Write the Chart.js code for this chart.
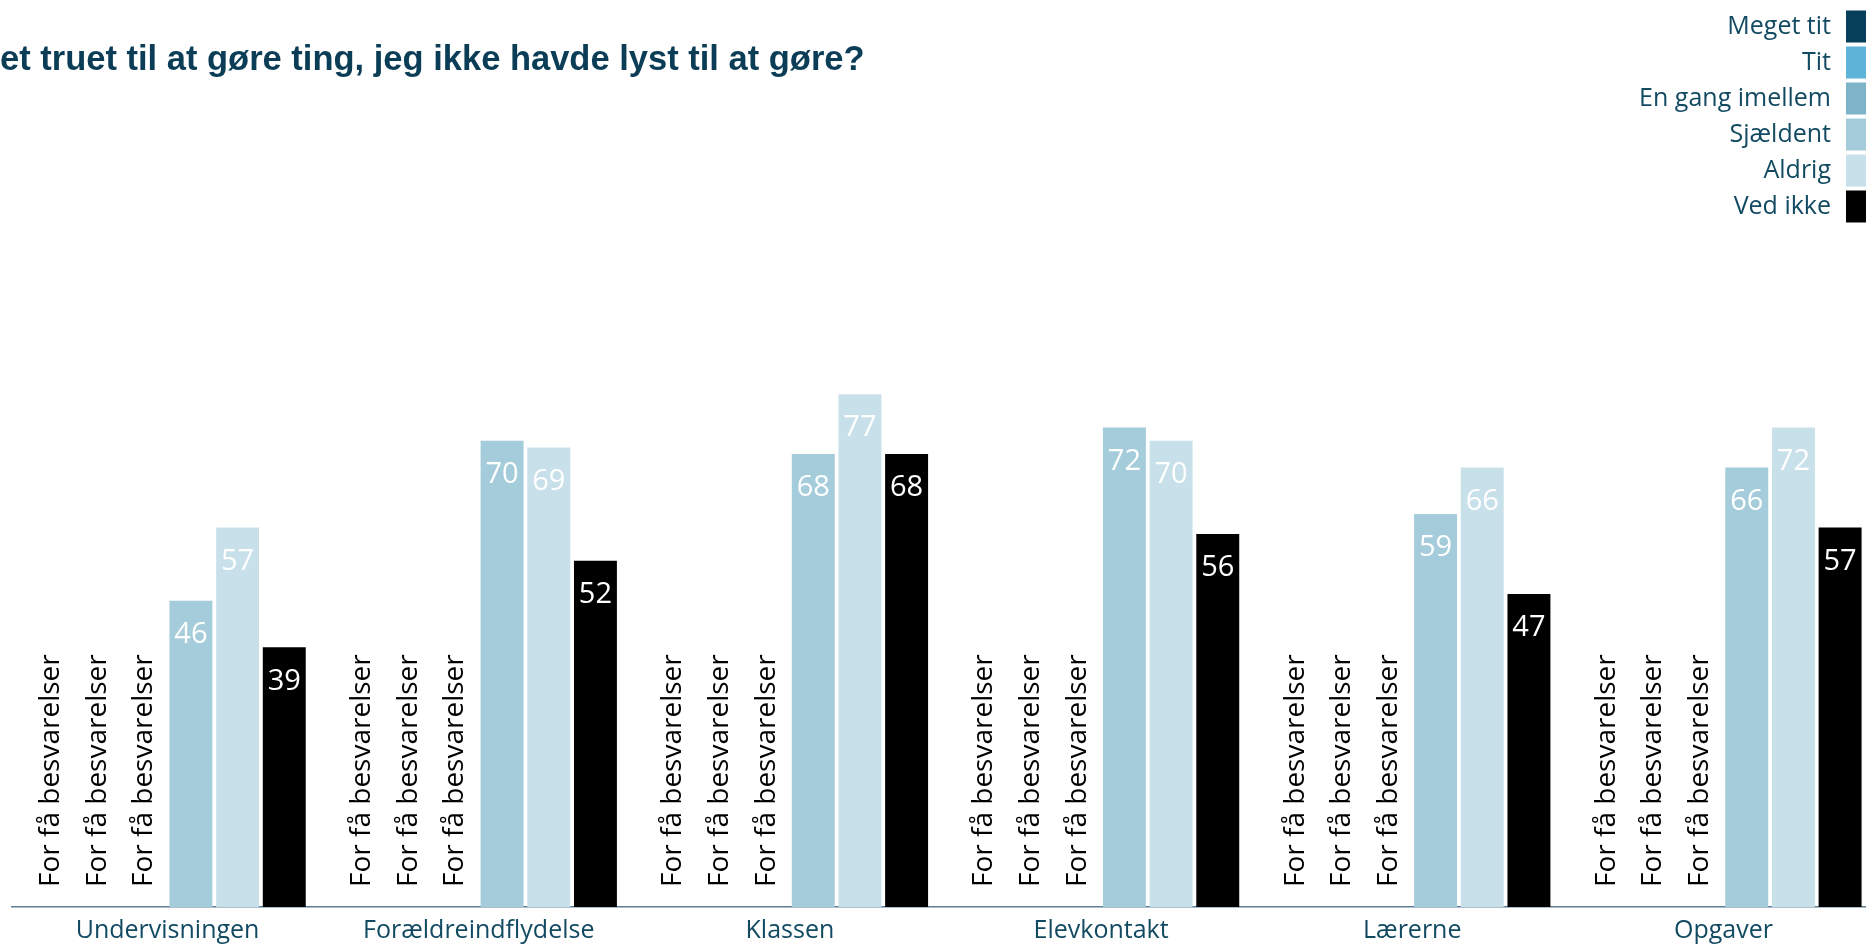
<!DOCTYPE html>
<html>
<head>
<meta charset="utf-8">
<script src="https://cdn.jsdelivr.net/npm/chart.js@4/dist/chart.umd.min.js"></script>
<style>
  html, body { margin: 0; padding: 0; background: #ffffff; overflow: hidden; width: 1866px; height: 947px; }
  #wrap { position: absolute; left: 0; top: 0; width: 1880px; height: 947px; }
</style>
</head>
<body>
<div id="wrap"><canvas id="c" width="1880" height="947"></canvas></div>
<script>
const titleText = "et truet til at gøre ting, jeg ikke havde lyst til at gøre?";
const categories = ["Undervisningen", "Forældreindflydelse", "Klassen", "Elevkontakt", "Lærerne", "Opgaver"];
const seriesNames = ["Meget tit", "Tit", "En gang imellem", "Sjældent", "Aldrig", "Ved ikke"];
const seriesColors = ["#063f5a", "#5db4d9", "#7fb3c8", "#a4ccda", "#c8e0e9", "#000000"];
const megetTit = [null, null, null, null, null, null];
const tit = [null, null, null, null, null, null];
const enGangImellem = [null, null, null, null, null, null];
const sjaeldent = [46, 70, 68, 72, 59, 66];
const aldrig = [57, 69, 77, 70, 66, 72];
const vedIkke = [39, 52, 68, 56, 47, 57];
const missingText = "For få besvarelser";

const seriesValues = [megetTit, tit, enGangImellem, sjaeldent, aldrig, vedIkke];

const FONT = "'Open Sans', 'DejaVu Sans', sans-serif";
const TEXT_COLOR = "#124a62";

const overlayPlugin = {
  id: 'overlay',
  afterDatasetsDraw(chart) {
    const ctx = chart.ctx;
    const axisY = chart.scales.y.getPixelForValue(0);
    chart.data.datasets.forEach((ds, di) => {
      const meta = chart.getDatasetMeta(di);
      meta.data.forEach((bar, i) => {
        const v = ds.data[i];
        ctx.save();
        if (v === null || v === undefined) {
          ctx.translate(bar.x, axisY - 20);
          ctx.rotate(-Math.PI / 2);
          ctx.font = "28px " + FONT;
          ctx.fillStyle = "#000000";
          ctx.textAlign = "left";
          ctx.textBaseline = "middle";
          ctx.fillText(missingText, 0, 0);
        } else {
          ctx.font = "29px " + FONT;
          ctx.fillStyle = "#ffffff";
          ctx.textAlign = "center";
          ctx.textBaseline = "middle";
          ctx.fillText(String(v), bar.x, bar.y + 34);
        }
        ctx.restore();
      });
    });
  },
  afterDraw(chart) {
    const ctx = chart.ctx;
    ctx.save();
    // title
    ctx.font = "bold 34.5px 'Liberation Sans', Arial, sans-serif";
    ctx.fillStyle = "#0b3d57";
    ctx.textAlign = "left";
    ctx.textBaseline = "alphabetic";
    ctx.fillText(titleText, 0, 70);
    // legend
    ctx.font = "25px " + FONT;
    ctx.textAlign = "right";
    ctx.textBaseline = "middle";
    chart.data.datasets.forEach((ds, di) => {
      const cy = 26.5 + di * 36;
      ctx.fillStyle = ds.backgroundColor;
      ctx.fillRect(1846, cy - 16, 32, 32);
      ctx.fillStyle = TEXT_COLOR;
      ctx.fillText(ds.label, 1831, cy);
    });
    ctx.restore();
  }
};

new Chart(document.getElementById('c'), {
  type: 'bar',
  data: {
    labels: categories,
    datasets: seriesNames.map((name, k) => ({
      label: name,
      data: seriesValues[k],
      backgroundColor: seriesColors[k],
      borderWidth: 0,
      categoryPercentage: 0.9,
      barPercentage: 0.92
    }))
  },
  options: {
    responsive: false,
    animation: false,
    devicePixelRatio: 1,
    layout: { padding: { top: 241, left: 12, right: 1, bottom: 0 } },
    plugins: { legend: { display: false }, tooltip: { enabled: false } },
    scales: {
      x: {
        grid: { display: false, drawTicks: false, tickLength: 0 },
        border: { display: true, color: '#5d7d93', width: 1.5 },
        ticks: { color: TEXT_COLOR, font: { size: 25, family: FONT }, padding: 9, maxRotation: 0 },
        afterFit(s) { s.height = 40; }
      },
      y: {
        display: false,
        min: 0,
        max: 100
      }
    }
  },
  plugins: [overlayPlugin]
});
</script>
</body>
</html>
